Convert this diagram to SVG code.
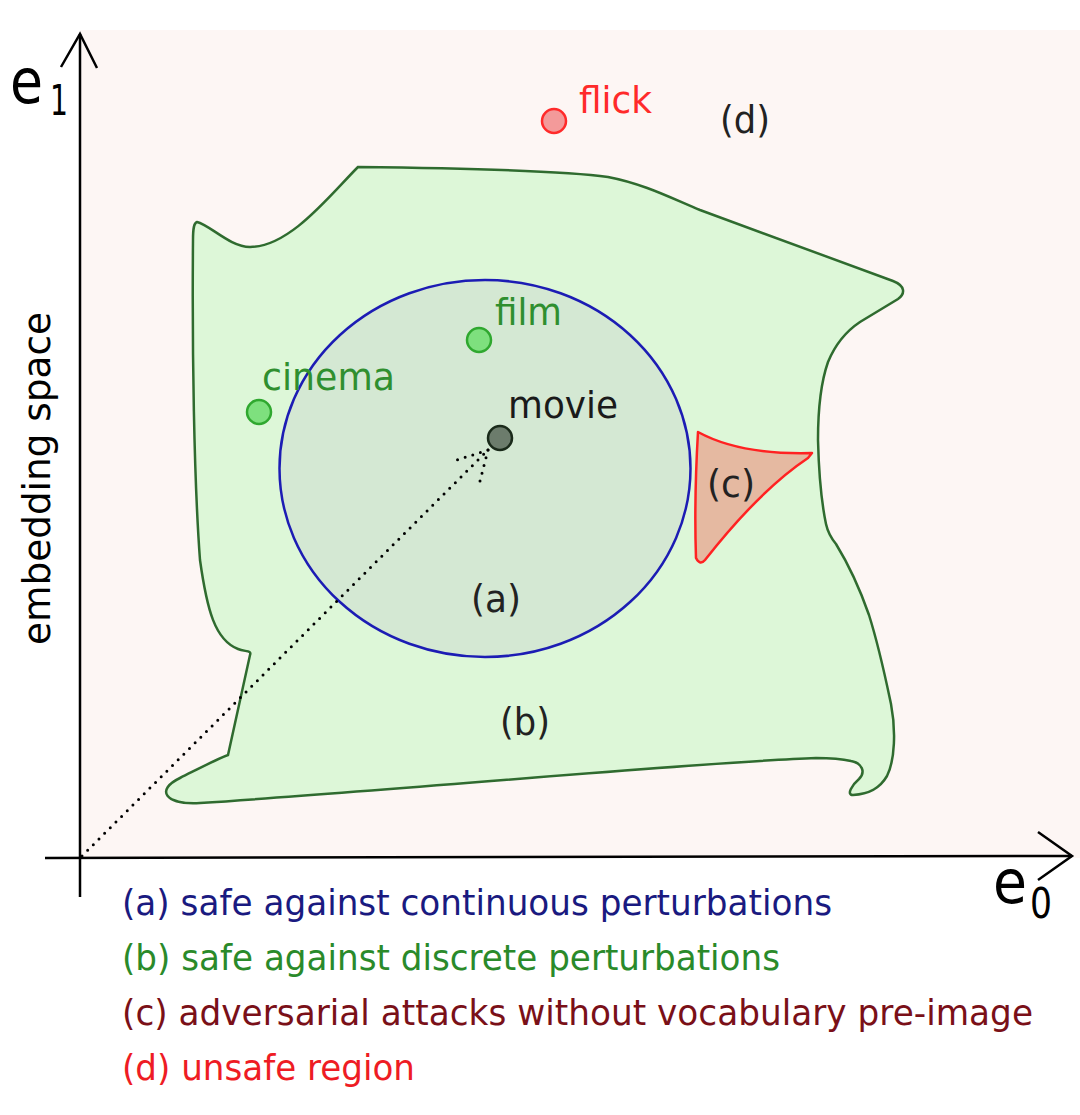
<svg xmlns="http://www.w3.org/2000/svg" width="1080" height="1115" viewBox="0 0 1080 1115">
<style>
text{font-family:"DejaVu Sans","Liberation Sans",sans-serif;}
.lbl{font-size:37px;fill:#222;}
.dot{stroke-width:2.5;}
.axis{stroke:#000;stroke-width:2.5;fill:none;}
.leg{font-size:35px;}
</style>
<rect x="0" y="0" width="1080" height="1115" fill="#fff"/>
<rect x="80" y="30" width="1000" height="828" fill="#fdf6f4"/>

<g id="region-b">
<path d="M197,222 C210,225 230,247 250,247 C290,247 330,195 358,167 C450,168 560,170 608,177 C645,184 675,200 700,210 L893,281 C906,286 905,294 898,299 L860,322 C845,332 835,345 828,362 C821,382 818,410 818,440 C819,480 822,505 826,524 C828,533 831,538 836,544 C852,570 862,595 869,615 C880,650 888,690 891,704 C896,730 895,760 887,776 C880,788 870,794 853,795 C846,795 852,785 859,779 C866,772 862,763 851,761 C838,758 826,758 816,758 C700,762 400,790 200,803 C165,805 155,790 180,778 C200,768 215,760 228,755 L250,655 C252,650 245,652 238,649 C215,640 207,610 200,560 C194,480 192,350 193,240 C193,228 194,223 197,222 Z" fill="#ddf7d8" stroke="#2f6b2f" stroke-width="2.5"/>
<text class="lbl" x="500" y="735" textLength="50" lengthAdjust="spacingAndGlyphs">(b)</text>
</g>

<g id="region-a">
<ellipse cx="485" cy="468.5" rx="205.5" ry="188.5" fill="#d4e8d3" stroke="#1c1cb4" stroke-width="2.5"/>
<text class="lbl" x="471" y="612" textLength="50" lengthAdjust="spacingAndGlyphs">(a)</text>
</g>

<g id="region-c">
<path d="M698,432 Q740,455 812,453 L808,458 Q760,490 705,560 Q700,566 696,558 Q694,500 698,432 Z" fill="#e5b9a1" stroke="#ff2222" stroke-width="2.5" stroke-linejoin="round"/>
<text class="lbl" x="707" y="497" textLength="48" lengthAdjust="spacingAndGlyphs">(c)</text>
</g>

<g id="region-d">
<text class="lbl" x="720" y="133" textLength="50" lengthAdjust="spacingAndGlyphs">(d)</text>
</g>

<g id="axes">
<line class="axis" x1="80" y1="34" x2="80" y2="897"/>
<polyline class="axis" points="61,67 80,34 97,68"/>
<line class="axis" x1="45" y1="858" x2="1072" y2="856"/>
<polyline class="axis" points="1038,832 1072,856 1038,880"/>
<text x="10" y="103" font-size="62" fill="#000" textLength="33" lengthAdjust="spacingAndGlyphs">e</text>
<text x="50" y="115" font-size="42" fill="#000" textLength="18" lengthAdjust="spacingAndGlyphs">1</text>
<text x="993" y="903" font-size="60" fill="#000" textLength="34" lengthAdjust="spacingAndGlyphs">e</text>
<text x="1030" y="918" font-size="42" fill="#000" textLength="22" lengthAdjust="spacingAndGlyphs">0</text>
<text transform="translate(50,645) rotate(-90)" x="0" y="0" font-size="37" fill="#000" textLength="333" lengthAdjust="spacingAndGlyphs">embedding space</text>
</g>

<g id="connectors" fill="none" stroke="#000" stroke-width="3" stroke-linecap="round" stroke-dasharray="0 8">
<line x1="82" y1="856" x2="488" y2="450"/>
<line x1="488" y1="450" x2="457" y2="460"/>
<line x1="488" y1="450" x2="480" y2="481"/>
</g>

<g id="node-flick">
<circle class="dot" cx="554" cy="121" r="12" fill="#f39a9a" stroke="#ff2a2a"/>
<text x="579" y="113" font-size="38" fill="#ff2a2a" textLength="73" lengthAdjust="spacingAndGlyphs">flick</text>
</g>
<g id="node-film">
<circle class="dot" cx="479" cy="340" r="12" fill="#7ee07e" stroke="#2fa82f"/>
<text x="495" y="325" font-size="38" fill="#2f8f2f" textLength="67" lengthAdjust="spacingAndGlyphs">film</text>
</g>
<g id="node-cinema">
<circle class="dot" cx="259" cy="412" r="12" fill="#7ee07e" stroke="#2fa82f"/>
<text x="262" y="390" font-size="38" fill="#2f8f2f" textLength="133" lengthAdjust="spacingAndGlyphs">cinema</text>
</g>
<g id="node-movie">
<circle class="dot" cx="500" cy="438" r="12" fill="#6c7c6c" stroke="#1a2a1a"/>
<text x="508" y="418" font-size="38" fill="#1a1a1a" textLength="110" lengthAdjust="spacingAndGlyphs">movie</text>
</g>

<g id="legend">
<text class="leg" x="122" y="915" fill="#1a1a80" textLength="710" lengthAdjust="spacingAndGlyphs">(a) safe against continuous perturbations</text>
<text class="leg" x="122" y="970" fill="#2a8a2a" textLength="658" lengthAdjust="spacingAndGlyphs">(b) safe against discrete perturbations</text>
<text class="leg" x="122" y="1025" fill="#7a1018" textLength="911" lengthAdjust="spacingAndGlyphs">(c) adversarial attacks without vocabulary pre-image</text>
<text class="leg" x="122" y="1080" fill="#ee1c24" textLength="293" lengthAdjust="spacingAndGlyphs">(d) unsafe region</text>
</g>
</svg>
